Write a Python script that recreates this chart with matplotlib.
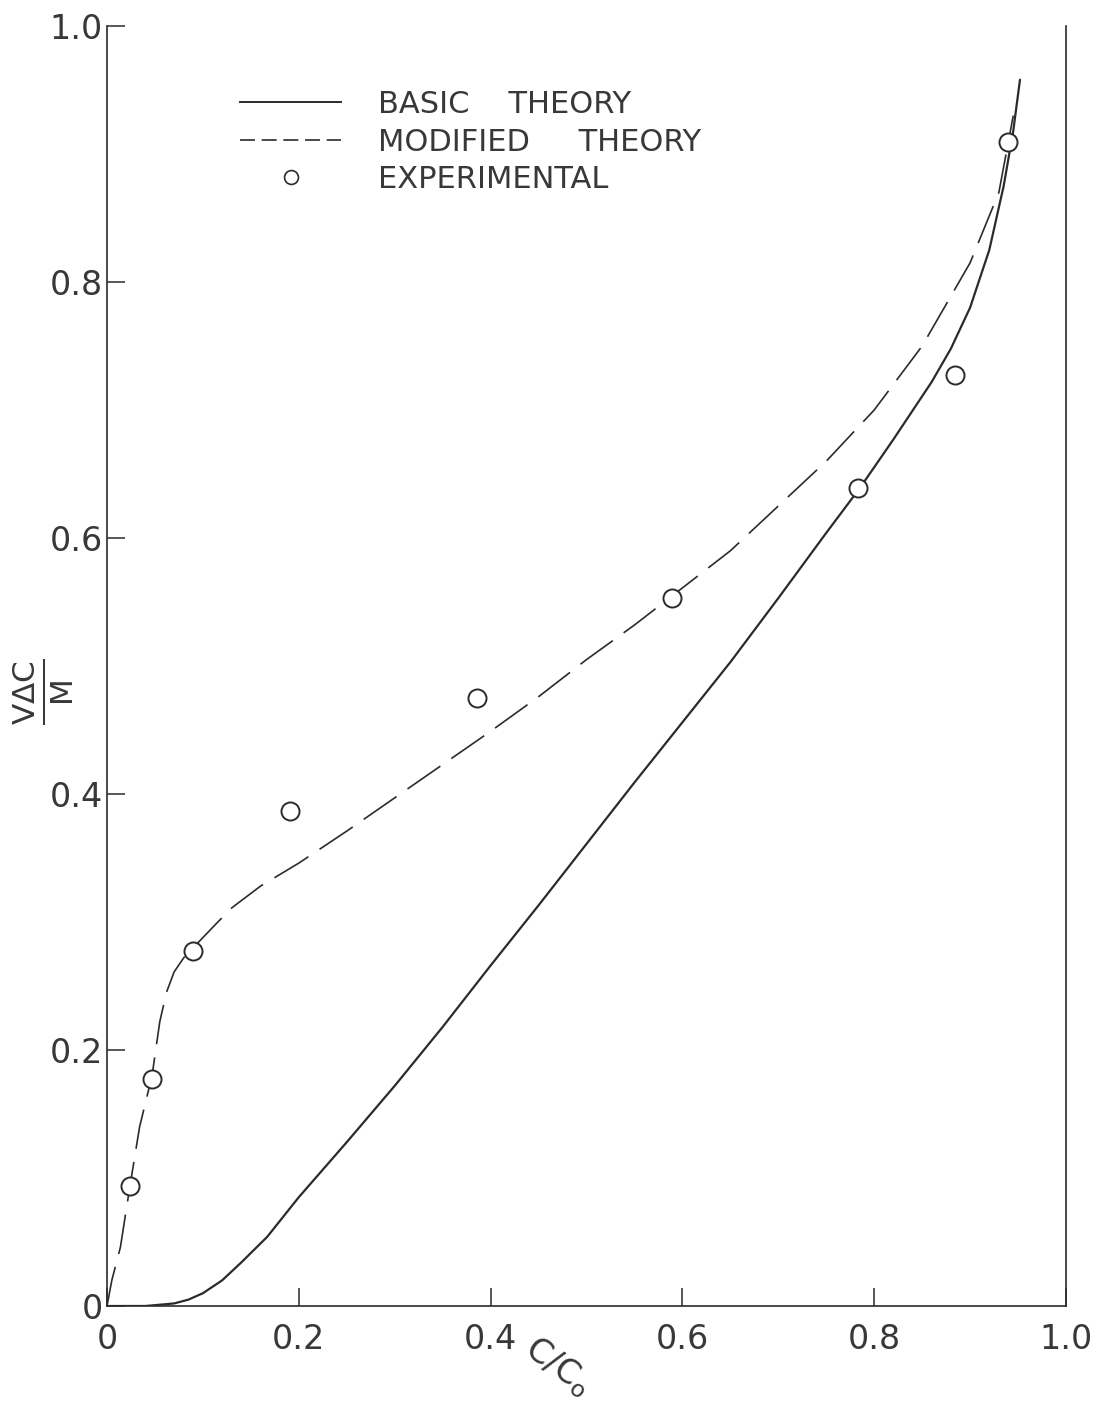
"""Recreate the V*dC/M versus C/Co comparison chart (basic vs modified theory)."""

import matplotlib

matplotlib.use("Agg")

import matplotlib.pyplot as plt
from matplotlib.lines import Line2D

# basic theory (solid)
basic_x = [0.0, 0.04, 0.07, 0.085, 0.10, 0.12, 0.14, 0.167, 0.20, 0.25, 0.30,
           0.35, 0.40, 0.45, 0.50, 0.55, 0.60, 0.65, 0.70, 0.75, 0.785, 0.82,
           0.86, 0.88, 0.90, 0.92, 0.935, 0.945, 0.952]
basic_y = [0.0, 0.0, 0.002, 0.005, 0.010, 0.020, 0.034, 0.054, 0.085, 0.128,
           0.172, 0.218, 0.266, 0.313, 0.361, 0.409, 0.456, 0.503, 0.553, 0.604,
           0.639, 0.677, 0.722, 0.748, 0.780, 0.825, 0.875, 0.918, 0.958]

# modified theory (dashed)
modified_x = [0.0, 0.005, 0.014, 0.024, 0.034, 0.047, 0.055, 0.062, 0.070,
              0.080, 0.09, 0.113, 0.13, 0.16, 0.20, 0.25, 0.30, 0.35, 0.40,
              0.45, 0.50, 0.55, 0.60, 0.65, 0.70, 0.75, 0.80, 0.85, 0.90,
              0.93, 0.945]
modified_y = [0.0, 0.020, 0.046, 0.094, 0.140, 0.180, 0.222, 0.245, 0.261,
              0.272, 0.280, 0.298, 0.311, 0.328, 0.346, 0.371, 0.397, 0.423,
              0.449, 0.476, 0.505, 0.532, 0.561, 0.590, 0.625, 0.660, 0.700,
              0.750, 0.815, 0.870, 0.930]

# experimental points
exp_x = [0.024, 0.047, 0.090, 0.191, 0.386, 0.589, 0.783, 0.884, 0.940]
exp_y = [0.094, 0.177, 0.277, 0.387, 0.475, 0.553, 0.639, 0.727, 0.909]

tick_values = [0.0, 0.2, 0.4, 0.6, 0.8, 1.0]
tick_labels = ["0", "0.2", "0.4", "0.6", "0.8", "1.0"]

INK = "#2b2b2b"
TEXT = "#383838"

plt.rcParams["font.family"] = ["DejaVu Sans"]
plt.rcParams["mathtext.fontset"] = "dejavusans"

figure = plt.figure(figsize=(10.98, 14.07), dpi=100)
axis = figure.add_axes([107 / 1098, 1 - 1306 / 1407, 959 / 1098, 1280 / 1407])

axis.plot(basic_x, basic_y, color=INK, linewidth=1.6, solid_capstyle="round")
axis.plot(modified_x, modified_y, color=INK, linewidth=1.2, dashes=(24, 8))
axis.plot(exp_x, exp_y, linestyle="none", marker="o", markersize=13,
          markerfacecolor="white", markeredgecolor=INK, markeredgewidth=1.4)

axis.set_xlim(0.0, 1.0)
axis.set_ylim(0.0, 1.0)
axis.set_xticks(tick_values)
axis.set_xticklabels(tick_labels)
axis.set_yticks(tick_values)
axis.set_yticklabels(tick_labels)
axis.tick_params(direction="in", length=13, width=1.1, colors=INK,
                 labelsize=24, labelcolor=TEXT)
axis.tick_params(axis="x", pad=12)
axis.tick_params(axis="y", pad=3)

axis.spines["top"].set_visible(False)
for side in ("left", "bottom", "right"):
    axis.spines[side].set_color(INK)
    axis.spines[side].set_linewidth(1.2)

# y label: fraction V.dC / M, read bottom to top
axis.text(-0.066, 0.48, r"$\frac{\mathsf{V\Delta C}}{\mathsf{M}}$",
          transform=axis.transAxes, rotation=90, ha="center", va="center",
          fontsize=32, color=TEXT)
axis.text(0.47, -0.047, r"$\mathsf{C/C_o}$", transform=axis.transAxes,
          rotation=-36, ha="center", va="center", rotation_mode="anchor",
          fontsize=24, color=TEXT)

handles = [
    Line2D([], [], color=INK, linewidth=1.4),
    Line2D([], [], color=INK, linewidth=1.2, dashes=(9, 4)),
    Line2D([], [], linestyle="none", marker="o", markersize=10,
           markerfacecolor="white", markeredgecolor=INK, markeredgewidth=1.2),
]
labels = ["BASIC    THEORY", "MODIFIED     THEORY", "EXPERIMENTAL"]
legend = axis.legend(handles, labels, loc="upper left",
                     bbox_to_anchor=(0.139, 0.950), frameon=False,
                     fontsize=22, handlelength=3.3, handletextpad=1.2,
                     labelspacing=0.28, borderpad=0, borderaxespad=0)
for text in legend.get_texts():
    text.set_color(TEXT)

figure.savefig("out.png", dpi=100, facecolor="white")
plt.close(figure)
